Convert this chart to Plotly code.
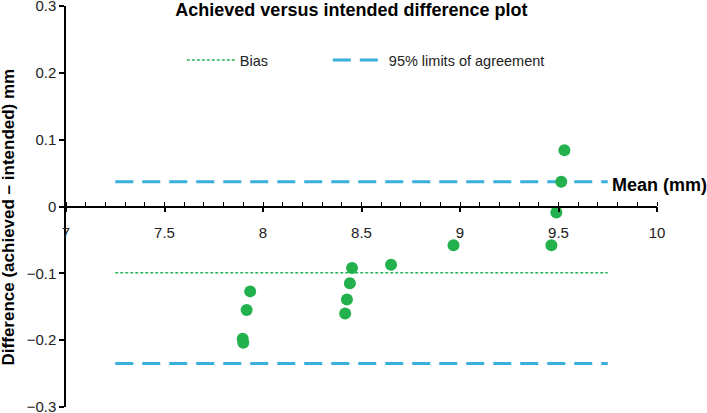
import plotly.graph_objects as go

# Achieved vs intended difference (Bland-Altman style) data
mean_mm = [7.935, 7.917, 7.897, 7.900, 8.452, 8.441, 8.426, 8.417,
           8.650, 8.967, 9.464, 9.489, 9.514, 9.530]
diff_mm = [-0.127, -0.155, -0.198, -0.204, -0.092, -0.115, -0.139, -0.160,
           -0.087, -0.058, -0.058, -0.009, 0.037, 0.084]

line_span = [7.25, 9.75]
bias = -0.099
loa_upper = 0.037
loa_lower = -0.235

x_ticks = [7, 7.5, 8, 8.5, 9, 9.5, 10]
y_ticks = [-0.3, -0.2, -0.1, 0, 0.1, 0.2, 0.3]
y_labels = ["−0.3", "−0.2", "−0.1", "0", "0.1", "0.2", "0.3"]

FONT = "Arial, Liberation Sans, sans-serif"
GREEN = "#22b14c"
BLUE = "#3aaedc"

fig = go.Figure()

# Bias line
fig.add_trace(go.Scatter(
    x=line_span, y=[bias, bias], mode="lines", name="Bias",
    line=dict(color="#2db35a", width=1.5, dash="3px,2px"),
    hoverinfo="skip", legend="legend"))

# 95% limits of agreement
fig.add_trace(go.Scatter(
    x=line_span, y=[loa_upper, loa_upper], mode="lines",
    name="95% limits of agreement", legendgroup="loa", legend="legend2",
    line=dict(color=BLUE, width=3, dash="18px,9px"),
    hoverinfo="skip"))
fig.add_trace(go.Scatter(
    x=line_span, y=[loa_lower, loa_lower], mode="lines",
    name="95% limits of agreement", legendgroup="loa", showlegend=False,
    line=dict(color=BLUE, width=3, dash="18px,9px"),
    hoverinfo="skip"))

# points
fig.add_trace(go.Scatter(
    x=mean_mm, y=diff_mm, mode="markers", showlegend=False,
    marker=dict(color=GREEN, size=12, line=dict(width=0))))

legend_style = dict(orientation="h", y=0.865, xanchor="left", yanchor="middle",
                    bgcolor="rgba(0,0,0,0)")

fig.update_layout(
    width=707, height=413,
    margin=dict(l=66, r=50, t=6, b=6, autoexpand=False),
    paper_bgcolor="white", plot_bgcolor="white",
    font=dict(family=FONT, color="#222", size=14),
    title=dict(text="<b>Achieved versus intended difference plot</b>",
               x=0.497, xanchor="center", y=0.976, yanchor="middle",
               font=dict(size=18, color="black")),
    legend=dict(x=0.196, itemwidth=48,
                font=dict(size=14.5, color="#222"), **legend_style),
    legend2=dict(x=0.443, itemwidth=51,
                 font=dict(size=14.5, color="#222"), **legend_style),
    showlegend=True,
)

fig.update_xaxes(
    range=[7, 10], anchor="free", position=0.5, automargin=False,
    showline=True, linecolor="black", linewidth=1.5,
    showgrid=False, zeroline=False,
    tickmode="array", tickvals=x_ticks,
    ticks="outside", ticklen=5, tickwidth=1.5,
    tickcolor="black", ticklabelstandoff=8,
    tickfont=dict(size=15, color="#222"),
    minor=dict(dtick=0.1, tick0=7, ticks="inside", ticklen=4, tickwidth=1,
               tickcolor="black", showgrid=False),
)

fig.update_yaxes(
    range=[-0.3, 0.3], showline=True, linecolor="black", linewidth=1.5,
    showgrid=False, zeroline=False,
    tickmode="array", tickvals=y_ticks, ticktext=y_labels,
    ticklabeloverflow="allow",
    ticks="outside", ticklen=5, tickwidth=1.5,
    tickcolor="black", tickfont=dict(size=15, color="#222"),
    automargin=False,
)

# y axis title placed as a rotated annotation, flush with the left edge
fig.add_annotation(
    text="<b>Difference (achieved – intended) mm</b>", xref="paper", yref="paper",
    x=-0.098, y=0.473, xanchor="center", yanchor="middle", textangle=-90,
    showarrow=False, font=dict(size=17, color="black"))

fig.add_annotation(
    text="<b>Mean (mm)</b>", xref="paper", yref="paper",
    x=0.921, y=0.554, xanchor="left", yanchor="middle",
    showarrow=False, font=dict(size=18, color="black"))

# page body has a default margin; remove it so the figure sits at the corner
fig.write_html("out.html", config={"displayModeBar": False},
               post_script="document.body.style.margin='0';")
